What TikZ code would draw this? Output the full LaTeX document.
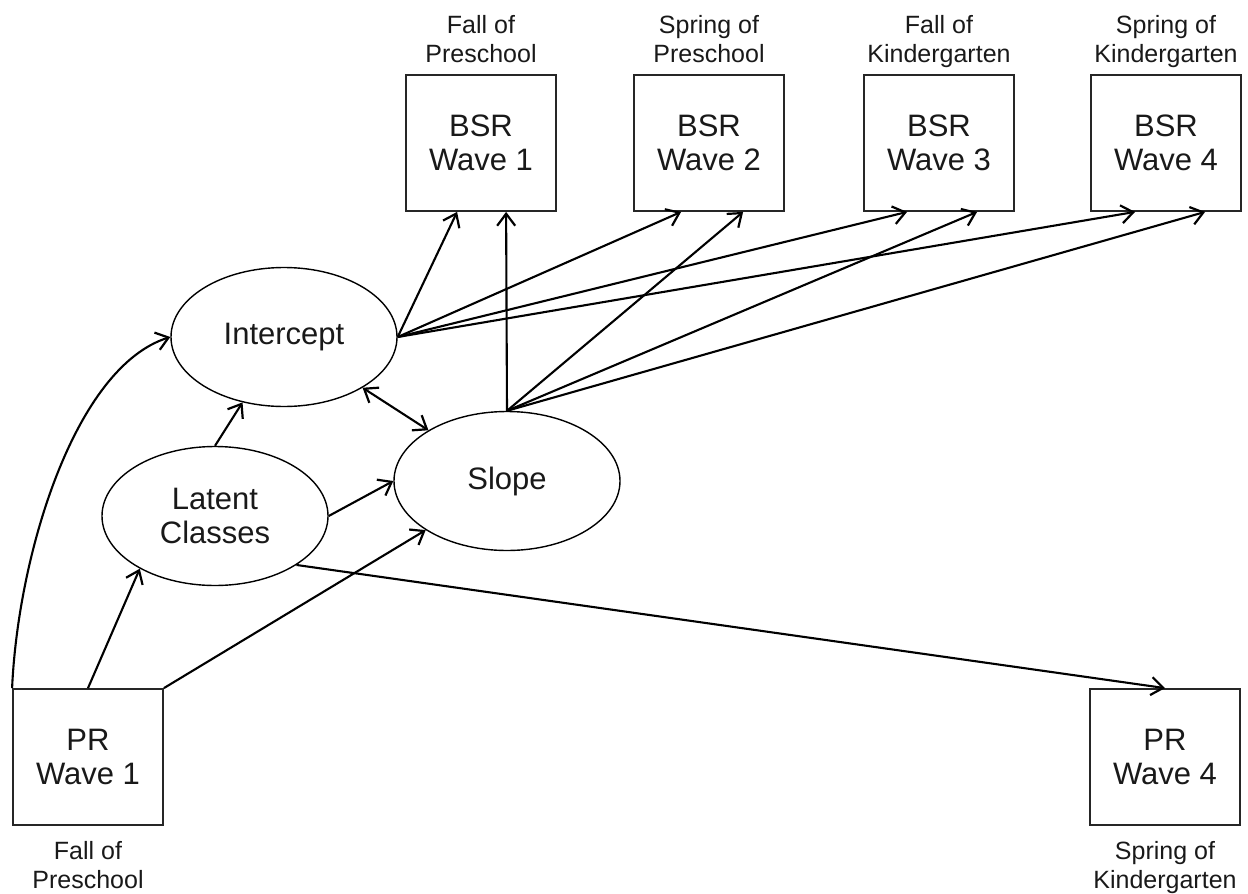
\documentclass[tikz,border=0pt]{standalone}
\usepackage{fontspec}
\setmainfont{Liberation Sans}
\usetikzlibrary{arrows.meta,shapes.geometric}
\begin{document}
\begin{tikzpicture}[x=0.5pt,y=-0.5pt,
  box/.style={draw=black!85, line width=0.9pt, rectangle, minimum width=75pt, minimum height=68pt, inner sep=0pt, align=center, text=black!90, font=\fontsize{15.5}{17}\selectfont},
  latent/.style={draw, line width=0.7pt, ellipse, minimum width=113pt, minimum height=69.5pt, inner sep=0pt, align=center, text=black!90, font=\fontsize{15.5}{17}\selectfont},
  lbl/.style={align=center, inner sep=0pt, anchor=north, text=black!90, font=\fontsize{12.5}{14.5}\selectfont},
  tip/.tip={Straight Barb[length=6pt,width=9pt,line width=1.1pt]},
  arr/.style={line width=1.05pt, -tip},
  darr/.style={line width=1.05pt, tip-tip}
]
\useasboundingbox (0,0) rectangle (1248,894);
% observed boxes
\node[box] (bsr1) at (481,143) {BSR\\Wave 1};
\node[box] (bsr2) at (709,143) {BSR\\Wave 2};
\node[box] (bsr3) at (939,143) {BSR\\Wave 3};
\node[box] (bsr4) at (1166,143) {BSR\\Wave 4};
\node[box] (pr1) at (88,757) {PR\\Wave 1};
\node[box] (pr4) at (1165,757) {PR\\Wave 4};
% latent ellipses
\node[latent] (int) at (284,337) {Intercept};
\node[latent] (slope) at (507,481) {Slope};
\node[latent] (lat) at (215,516) {Latent\\Classes};
% time labels
\node[lbl] (t1) at (481,15) {Fall of\\Preschool};
\node[lbl] (t2) at (709,15) {Spring of\\Preschool};
\node[lbl] (t3) at (939,15) {Fall of\\Kindergarten};
\node[lbl] (t4) at (1166,15) {Spring of\\Kindergarten};
\node[lbl] (b1) at (88,841) {Fall of\\Preschool};
\node[lbl] (b4) at (1165,841) {Spring of\\Kindergarten};
% connectors
\draw[arr] (pr1.north west) .. controls +(6,-135) and +(-95,30) .. (int.west);
\draw[arr] (pr1.north) -- (lat.215);
\draw[arr] (pr1.north east) -- (slope);
\draw[arr] (lat.north) -- (int);
\draw[arr] (lat.east) -- (slope.west);
\draw[arr] (lat.-31) -- (pr4.north);
\draw[darr] (int) -- (slope);
\draw[arr] (int.east) -- ([xshift=26pt]bsr1.south west);
\draw[arr] (int.east) -- ([xshift=24pt]bsr2.south west);
\draw[arr] (int.east) -- ([xshift=22pt]bsr3.south west);
\draw[arr] (int.east) -- ([xshift=22.5pt]bsr4.south west);
\draw[arr] (slope.north) -- ([xshift=50.5pt]bsr1.south west);
\draw[arr] (slope.north) -- ([xshift=55pt]bsr2.south west);
\draw[arr] (slope.north) -- ([xshift=57pt]bsr3.south west);
\draw[arr] (slope.north) -- ([xshift=57.5pt]bsr4.south west);
\end{tikzpicture}
\end{document}
